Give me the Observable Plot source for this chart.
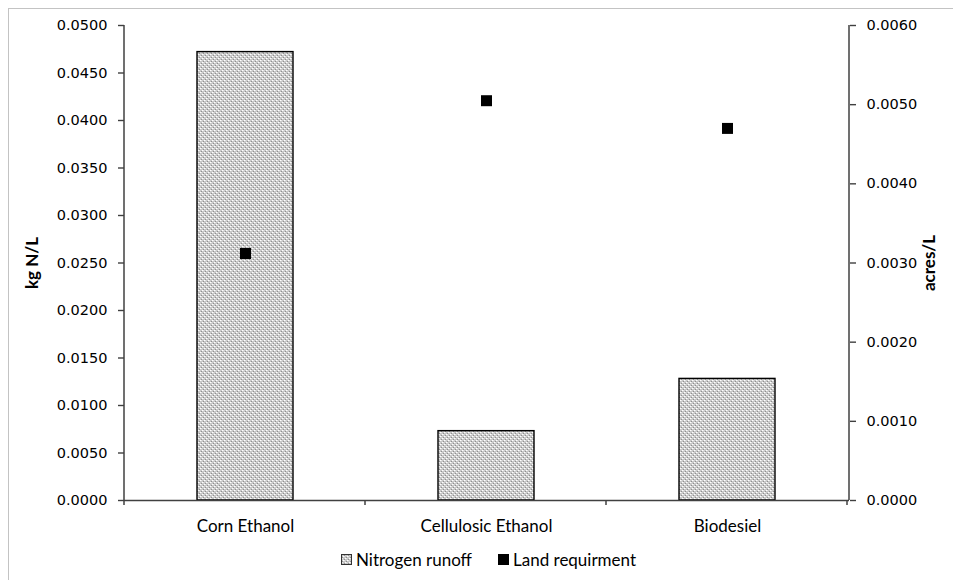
<!DOCTYPE html>
<html><head><meta charset="utf-8">
<script src="https://cdn.jsdelivr.net/npm/d3@7"></script>
<script src="https://cdn.jsdelivr.net/npm/@observablehq/plot@0.6"></script>
<style>
body{margin:0;background:#fff;overflow:hidden;}
#wrap{position:relative;width:953px;height:580px;overflow:hidden;background:#fff;}
#border{position:absolute;left:8px;top:8px;width:1000px;height:1000px;border:1.5px solid #c3c3c3;box-sizing:border-box;}
#chart{position:absolute;left:0;top:0;}
#legend{position:absolute;left:0;top:548px;width:953px;height:22px;font-family:Lato,sans-serif;font-size:17px;color:#000;}
.item{position:absolute;top:0;display:flex;align-items:center;height:22px;white-space:nowrap;}
.sw{width:11px;height:11px;margin-right:4px;box-sizing:border-box;}
</style></head>
<body>
<div id="wrap">
  <div id="border"></div>
  <div id="chart"></div>
  <div id="legend">
    <div class="item" style="left:341px"><svg class="sw" width="11" height="11"><rect x="0.5" y="0.5" width="10" height="10" fill="url(#nhatch)" stroke="#333" stroke-width="1"/></svg><span>Nitrogen runoff</span></div>
    <div class="item" style="left:498px"><svg class="sw" width="11" height="11"><rect x="0" y="0" width="11" height="11" fill="#000"/></svg><span>Land requirment</span></div>
  </div>
</div>
<script>
const categories = ["Corn Ethanol", "Cellulosic Ethanol", "Biodesiel"];
const nitrogenRunoff = [0.0472, 0.0073, 0.0128];      // kg N/L (left axis)
const landRequirement = [0.00312, 0.00505, 0.0047];    // acres/L (right axis)
const leftTicks = [0, 0.005, 0.01, 0.015, 0.02, 0.025, 0.03, 0.035, 0.04, 0.045, 0.05];
const rightTicks = [0, 0.001, 0.002, 0.003, 0.004, 0.005, 0.006];
const leftLabel = "kg N/L";
const rightLabel = "acres/L";

const k = 0.05 / 0.006; // right-axis to left-axis factor
const data = categories.map((c, i) => ({category: c, nitrogen: nitrogenRunoff[i], land: landRequirement[i]}));

const axisColor = "#404040";
const chart = Plot.plot({
  width: 953, height: 540,
  marginLeft: 124, marginRight: 104, marginTop: 25, marginBottom: 40,
  x: {domain: categories, paddingInner: 0.6, paddingOuter: 0.3, axis: null},
  y: {domain: [0, 0.05], axis: null},
  style: {fontFamily: "DejaVu Sans", fontSize: "14.5px", color: "#000", background: "transparent", overflow: "visible"},
  marks: [
    Plot.barY(data, {x: "category", y: "nitrogen", fill: "url(#nhatch)", stroke: "#000", strokeWidth: 1.4}),
    Plot.dot(data, {x: "category", y: d => d.land * k, symbol: "square", r: 6.2, fill: "#000", stroke: null}),
    Plot.axisY({anchor: "left", ticks: leftTicks, tickFormat: d => d.toFixed(4), tickSize: 6, tickPadding: 11, stroke: axisColor, strokeWidth: 1.4, label: null, fill: "#000"}),
    Plot.axisY({anchor: "right", ticks: rightTicks.map(v => v * k), tickFormat: d => (d / k).toFixed(4), tickSize: 6, tickPadding: 11, stroke: axisColor, strokeWidth: 1.4, label: null, fill: "#000"}),
    Plot.axisX({anchor: "bottom", tickSize: 0, tickPadding: 19, fontFamily: "Lato", fontSize: 17, label: null, fill: "#000"}),
    Plot.ruleY([0], {stroke: axisColor, strokeWidth: 1.5}),
    Plot.text([leftLabel], {frameAnchor: "left", dx: -92, rotate: -90, textAnchor: "middle", fontWeight: "bold", fontFamily: "Lato", fontSize: 17, fill: "#000"}),
    Plot.text([rightLabel], {frameAnchor: "right", dx: 80, rotate: -90, textAnchor: "middle", fontWeight: "bold", fontFamily: "Lato", fontSize: 17, fill: "#000"})
  ]
});

const svg = d3.select(chart);
const defs = svg.insert("defs", ":first-child");
const pat = defs.append("pattern").attr("id", "nhatch").attr("patternUnits", "userSpaceOnUse").attr("width", 4).attr("height", 4);
pat.append("rect").attr("width", 4).attr("height", 4).attr("fill", "#c8c8c8");
pat.append("rect").attr("x", 0).attr("y", 0).attr("width", 1).attr("height", 1).attr("fill", "#ffffff");
pat.append("rect").attr("x", 2).attr("y", 2).attr("width", 1).attr("height", 1).attr("fill", "#ffffff");
pat.append("rect").attr("x", 1).attr("y", 0).attr("width", 1).attr("height", 1).attr("fill", "#e6e6e6");
pat.append("rect").attr("x", 3).attr("y", 2).attr("width", 1).attr("height", 1).attr("fill", "#e6e6e6");
pat.append("rect").attr("x", 1).attr("y", 3).attr("width", 1).attr("height", 1).attr("fill", "#8f8f8f");
pat.append("rect").attr("x", 3).attr("y", 1).attr("width", 1).attr("height", 1).attr("fill", "#8f8f8f");

// axis lines and category-boundary ticks from the library's scales
const xs = chart.scale("x"), ys = chart.scale("y");
const [x0, x1] = xs.range;
const [yb, yt] = [ys.apply(0), ys.apply(0.05)];
const g = svg.append("g").attr("stroke", axisColor).attr("stroke-width", 1.5);
g.append("line").attr("x1", x0).attr("x2", x0).attr("y1", yb).attr("y2", yt);
g.append("line").attr("x1", x1).attr("x2", x1).attr("y1", yb).attr("y2", yt);
for (let i = 0; i <= categories.length; i++) {
  const xb = x0 + i * xs.step;
  g.append("line").attr("x1", xb).attr("x2", xb).attr("y1", yb).attr("y2", yb + 5);
}

document.getElementById("chart").appendChild(chart);
</script>
</body></html>
